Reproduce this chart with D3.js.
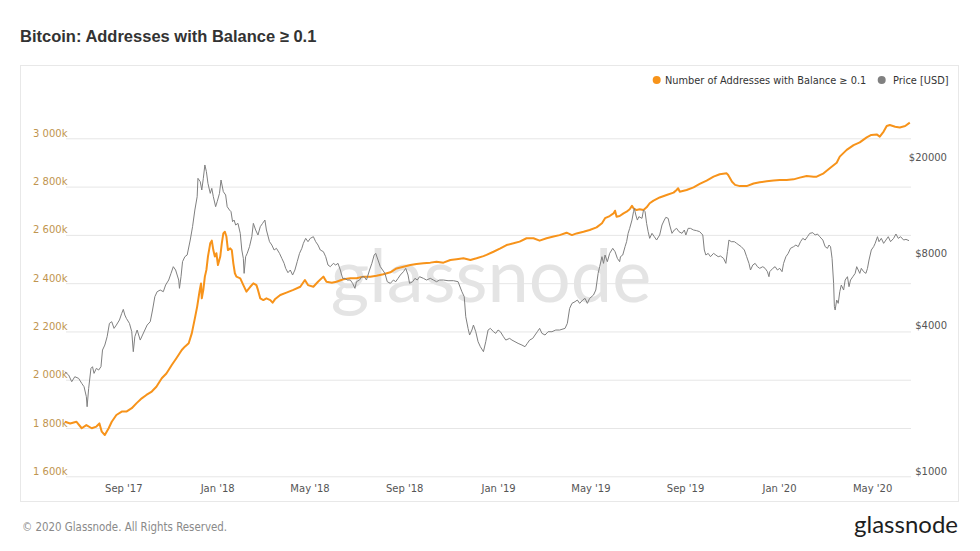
<!DOCTYPE html>
<html>
<head>
<meta charset="utf-8">
<script src="https://cdn.jsdelivr.net/npm/d3@7"></script>
<style>
  html, body { margin: 0; padding: 0; background: #ffffff; }
  svg text { font-family: "DejaVu Sans", sans-serif; }
</style>
</head>
<body>
<div id="chart"></div>
<script>
// addresses with balance >= 0.1, in thousands
const addressSeries = [
  ["2017-06-17", 1826], ["2017-06-24", 1819], ["2017-07-02", 1826], ["2017-07-09", 1799], ["2017-07-15", 1812],
  ["2017-07-22", 1799], ["2017-07-28", 1806], ["2017-08-01", 1819], ["2017-08-04", 1785], ["2017-08-08", 1771],
  ["2017-08-13", 1799], ["2017-08-17", 1826], ["2017-08-23", 1854], ["2017-08-30", 1868], ["2017-09-05", 1868],
  ["2017-09-12", 1882], ["2017-09-18", 1902], ["2017-09-25", 1923], ["2017-10-01", 1937], ["2017-10-08", 1951],
  ["2017-10-14", 1971], ["2017-10-21", 2006], ["2017-10-27", 2026], ["2017-11-03", 2061], ["2017-11-09", 2089],
  ["2017-11-16", 2123], ["2017-11-20", 2137], ["2017-11-25", 2151], ["2017-11-29", 2192], ["2017-12-03", 2254],
  ["2017-12-06", 2303], ["2017-12-09", 2365], ["2017-12-11", 2399], ["2017-12-12", 2337], ["2017-12-14", 2372],
  ["2017-12-16", 2427], ["2017-12-18", 2455], ["2017-12-20", 2510], ["2017-12-23", 2565], ["2017-12-25", 2576],
  ["2017-12-27", 2537], ["2017-12-29", 2510], ["2017-12-31", 2524], ["2018-01-02", 2475], ["2018-01-05", 2510],
  ["2018-01-07", 2565], ["2018-01-09", 2606], ["2018-01-11", 2613], ["2018-01-13", 2593], ["2018-01-15", 2537],
  ["2018-01-18", 2544], ["2018-01-20", 2537], ["2018-01-22", 2482], ["2018-01-24", 2441], ["2018-01-26", 2427],
  ["2018-01-31", 2420], ["2018-02-04", 2392], ["2018-02-08", 2365], ["2018-02-13", 2385], ["2018-02-17", 2399],
  ["2018-02-21", 2392], ["2018-02-23", 2372], ["2018-02-26", 2337], ["2018-03-02", 2330], ["2018-03-06", 2337],
  ["2018-03-11", 2330], ["2018-03-14", 2319], ["2018-03-17", 2333], ["2018-03-24", 2351], ["2018-04-01", 2361],
  ["2018-04-10", 2372], ["2018-04-19", 2385], ["2018-04-25", 2413], ["2018-04-29", 2392], ["2018-05-06", 2385],
  ["2018-05-12", 2406], ["2018-05-19", 2427], ["2018-05-23", 2406], ["2018-05-30", 2402], ["2018-06-05", 2406],
  ["2018-06-14", 2416], ["2018-06-23", 2420], ["2018-07-01", 2420], ["2018-07-10", 2427], ["2018-07-19", 2427],
  ["2018-07-27", 2431], ["2018-08-05", 2437], ["2018-08-14", 2445], ["2018-08-22", 2461], ["2018-08-31", 2468],
  ["2018-09-09", 2475], ["2018-09-17", 2479], ["2018-09-26", 2482], ["2018-10-05", 2485], ["2018-10-13", 2489],
  ["2018-10-22", 2485], ["2018-10-31", 2496], ["2018-11-08", 2499], ["2018-11-17", 2503], ["2018-11-26", 2496],
  ["2018-12-04", 2503], ["2018-12-13", 2512], ["2018-12-17", 2517], ["2018-12-26", 2530], ["2019-01-04", 2544],
  ["2019-01-12", 2558], ["2019-01-21", 2565], ["2019-01-29", 2572], ["2019-02-07", 2586], ["2019-02-16", 2586],
  ["2019-02-24", 2576], ["2019-03-05", 2586], ["2019-03-14", 2593], ["2019-03-22", 2599], ["2019-03-31", 2609],
  ["2019-04-07", 2599], ["2019-04-13", 2606], ["2019-04-22", 2613], ["2019-04-30", 2620], ["2019-05-09", 2631],
  ["2019-05-16", 2648], ["2019-05-20", 2669], ["2019-05-26", 2678], ["2019-05-31", 2689], ["2019-06-02", 2700],
  ["2019-06-04", 2675], ["2019-06-08", 2678], ["2019-06-13", 2689], ["2019-06-17", 2696], ["2019-06-21", 2706],
  ["2019-06-24", 2720], ["2019-06-26", 2710], ["2019-06-30", 2703], ["2019-07-04", 2706], ["2019-07-09", 2703],
  ["2019-07-13", 2714], ["2019-07-17", 2731], ["2019-07-22", 2742], ["2019-07-30", 2755], ["2019-08-08", 2765],
  ["2019-08-17", 2775], ["2019-08-21", 2786], ["2019-08-23", 2793], ["2019-08-25", 2779], ["2019-09-03", 2786],
  ["2019-09-12", 2797], ["2019-09-20", 2811], ["2019-09-29", 2825], ["2019-10-08", 2841], ["2019-10-16", 2851],
  ["2019-10-25", 2855], ["2019-10-27", 2848], ["2019-11-01", 2820], ["2019-11-05", 2807], ["2019-11-11", 2802],
  ["2019-11-20", 2802], ["2019-11-29", 2813], ["2019-12-07", 2818], ["2019-12-16", 2822], ["2019-12-25", 2825],
  ["2020-01-02", 2827], ["2020-01-11", 2827], ["2020-01-20", 2830], ["2020-01-28", 2837], ["2020-02-06", 2844],
  ["2020-02-15", 2841], ["2020-02-19", 2841], ["2020-02-28", 2855], ["2020-03-07", 2876], ["2020-03-16", 2899],
  ["2020-03-20", 2924], ["2020-03-29", 2952], ["2020-04-07", 2972], ["2020-04-15", 2983], ["2020-04-24", 3004],
  ["2020-04-30", 3014], ["2020-05-07", 3016], ["2020-05-11", 3007], ["2020-05-16", 3028], ["2020-05-20", 3051],
  ["2020-05-24", 3055], ["2020-05-31", 3048], ["2020-06-06", 3045], ["2020-06-13", 3051], ["2020-06-19", 3065]
];

// BTC price, USD
const priceSeries = [
  ["2017-06-17", 2712], ["2017-06-22", 2627], ["2017-06-26", 2466], ["2017-06-30", 2586], ["2017-07-05", 2545],
  ["2017-07-09", 2427], ["2017-07-12", 2351], ["2017-07-15", 2137], ["2017-07-16", 1942], ["2017-07-18", 2314],
  ["2017-07-21", 2800], ["2017-07-23", 2845], ["2017-07-25", 2670], ["2017-07-28", 2800], ["2017-07-31", 2756],
  ["2017-08-03", 2845], ["2017-08-05", 3335], ["2017-08-08", 3498], ["2017-08-11", 3788], ["2017-08-14", 4302],
  ["2017-08-17", 4370], ["2017-08-20", 4101], ["2017-08-23", 4234], ["2017-08-27", 4442], ["2017-08-30", 4733],
  ["2017-09-01", 4917], ["2017-09-03", 4659], ["2017-09-05", 4513], ["2017-09-09", 4302], ["2017-09-12", 3973],
  ["2017-09-14", 3283], ["2017-09-16", 3788], ["2017-09-19", 4037], ["2017-09-23", 3669], ["2017-09-26", 3849],
  ["2017-09-29", 4037], ["2017-10-02", 4234], ["2017-10-06", 4370], ["2017-10-09", 4886], ["2017-10-12", 5549],
  ["2017-10-15", 5820], ["2017-10-19", 5913], ["2017-10-23", 5820], ["2017-10-26", 6202], ["2017-10-30", 6505],
  ["2017-11-02", 6932], ["2017-11-05", 7388], ["2017-11-08", 7157], ["2017-11-12", 6505], ["2017-11-13", 6008],
  ["2017-11-15", 6715], ["2017-11-17", 7749], ["2017-11-20", 8127], ["2017-11-23", 8257], ["2017-11-27", 9528],
  ["2017-11-30", 10821], ["2017-12-03", 12686], ["2017-12-06", 14408], ["2017-12-07", 17162], ["2017-12-10", 16626],
  ["2017-12-12", 15354], ["2017-12-14", 17162], ["2017-12-16", 19492], ["2017-12-18", 18288], ["2017-12-20", 16364],
  ["2017-12-23", 14873], ["2017-12-25", 15599], ["2017-12-27", 14408], ["2017-12-30", 13096], ["2018-01-01", 13737],
  ["2018-01-04", 14873], ["2018-01-06", 16892], ["2018-01-09", 15111], ["2018-01-12", 14638], ["2018-01-14", 13096],
  ["2018-01-17", 12686], ["2018-01-19", 12486], ["2018-01-21", 11349], ["2018-01-23", 11527], ["2018-01-25", 10994],
  ["2018-01-28", 11170], ["2018-01-31", 10155], ["2018-02-02", 8662], ["2018-02-04", 7999], ["2018-02-05", 6932],
  ["2018-02-07", 8127], ["2018-02-09", 8389], ["2018-02-12", 8941], ["2018-02-15", 9835], ["2018-02-17", 11170],
  ["2018-02-20", 10483], ["2018-02-23", 9995], ["2018-02-26", 10821], ["2018-03-01", 11170], ["2018-03-04", 11527],
  ["2018-03-06", 10483], ["2018-03-10", 9378], ["2018-03-13", 9084], ["2018-03-16", 8662], ["2018-03-19", 8801],
  ["2018-03-23", 8389], ["2018-03-26", 7999], ["2018-03-29", 7627], ["2018-03-31", 7272], ["2018-04-03", 6976],
  ["2018-04-06", 7157], ["2018-04-09", 6823], ["2018-04-12", 7157], ["2018-04-15", 7749], ["2018-04-18", 8389],
  ["2018-04-21", 8801], ["2018-04-23", 9230], ["2018-04-26", 9681], ["2018-04-29", 9378], ["2018-05-02", 9681],
  ["2018-05-06", 9835], ["2018-05-09", 9378], ["2018-05-12", 9084], ["2018-05-15", 8662], ["2018-05-19", 8525],
  ["2018-05-22", 8127], ["2018-05-25", 7507], ["2018-05-28", 7388], ["2018-06-01", 7627], ["2018-06-04", 7507],
  ["2018-06-07", 7627], ["2018-06-10", 7157], ["2018-06-13", 6609], ["2018-06-16", 6609], ["2018-06-19", 6505],
  ["2018-06-23", 6505], ["2018-06-26", 6302], ["2018-06-29", 6008], ["2018-07-01", 6403], ["2018-07-05", 6505],
  ["2018-07-08", 6715], ["2018-07-11", 6715], ["2018-07-14", 6505], ["2018-07-18", 7157], ["2018-07-21", 7627],
  ["2018-07-24", 8257], ["2018-07-26", 8389], ["2018-07-29", 7873], ["2018-08-01", 7388], ["2018-08-04", 7157],
  ["2018-08-07", 6932], ["2018-08-10", 6403], ["2018-08-14", 6302], ["2018-08-18", 6505], ["2018-08-21", 6403],
  ["2018-08-24", 6609], ["2018-08-27", 6823], ["2018-08-31", 7043], ["2018-09-03", 7272], ["2018-09-06", 6823],
  ["2018-09-08", 6302], ["2018-09-12", 6403], ["2018-09-15", 6609], ["2018-09-18", 6505], ["2018-09-21", 6715],
  ["2018-09-26", 6609], ["2018-09-30", 6505], ["2018-10-05", 6609], ["2018-10-09", 6505], ["2018-10-13", 6403],
  ["2018-10-17", 6505], ["2018-10-22", 6505], ["2018-10-28", 6464], ["2018-11-04", 6464], ["2018-11-10", 6403],
  ["2018-11-15", 5820], ["2018-11-18", 5549], ["2018-11-20", 4585], ["2018-11-23", 4101], ["2018-11-25", 3849],
  ["2018-11-28", 4037], ["2018-11-30", 4234], ["2018-12-03", 3973], ["2018-12-06", 3611], ["2018-12-09", 3443],
  ["2018-12-13", 3283], ["2018-12-16", 3611], ["2018-12-19", 4037], ["2018-12-22", 4101], ["2018-12-26", 3973],
  ["2018-12-29", 3911], ["2019-01-01", 4037], ["2019-01-04", 3973], ["2019-01-08", 3788], ["2019-01-11", 3669],
  ["2019-01-16", 3728], ["2019-01-19", 3669], ["2019-01-23", 3611], ["2019-01-27", 3554], ["2019-02-01", 3498],
  ["2019-02-05", 3443], ["2019-02-08", 3554], ["2019-02-11", 3669], ["2019-02-15", 3728], ["2019-02-18", 3849],
  ["2019-02-21", 3973], ["2019-02-24", 4101], ["2019-02-27", 3911], ["2019-03-03", 3849], ["2019-03-07", 3973],
  ["2019-03-12", 3973], ["2019-03-17", 4037], ["2019-03-22", 4037], ["2019-03-29", 4101], ["2019-04-01", 4302],
  ["2019-04-04", 4964], ["2019-04-07", 5207], ["2019-04-11", 5290], ["2019-04-14", 5375], ["2019-04-17", 5207],
  ["2019-04-21", 5375], ["2019-04-24", 5461], ["2019-04-27", 5207], ["2019-04-30", 5461], ["2019-05-05", 5638],
  ["2019-05-08", 5913], ["2019-05-11", 6932], ["2019-05-13", 7388], ["2019-05-16", 8127], ["2019-05-18", 7627],
  ["2019-05-20", 8257], ["2019-05-23", 7749], ["2019-05-26", 8389], ["2019-05-30", 8801], ["2019-06-02", 8525],
  ["2019-06-05", 7999], ["2019-06-08", 7749], ["2019-06-09", 8127], ["2019-06-12", 8257], ["2019-06-15", 8941],
  ["2019-06-17", 9378], ["2019-06-19", 10155], ["2019-06-21", 10650], ["2019-06-24", 11527], ["2019-06-26", 12486],
  ["2019-06-27", 12889], ["2019-06-29", 12096], ["2019-07-01", 11527], ["2019-07-03", 11905], ["2019-07-07", 11717],
  ["2019-07-09", 12686], ["2019-07-11", 12486], ["2019-07-13", 11170], ["2019-07-15", 10318], ["2019-07-17", 9681],
  ["2019-07-20", 10155], ["2019-07-23", 9835], ["2019-07-26", 9528], ["2019-07-30", 9995], ["2019-08-02", 10994],
  ["2019-08-05", 11527], ["2019-08-07", 11830], ["2019-08-10", 11717], ["2019-08-12", 10994], ["2019-08-15", 10155],
  ["2019-08-18", 10483], ["2019-08-21", 10650], ["2019-08-24", 10318], ["2019-08-28", 10155], ["2019-08-31", 10483],
  ["2019-09-02", 9995], ["2019-09-05", 10650], ["2019-09-08", 10650], ["2019-09-12", 10483], ["2019-09-16", 10417],
  ["2019-09-20", 10318], ["2019-09-24", 9995], ["2019-09-26", 8662], ["2019-09-28", 8257], ["2019-10-01", 8389],
  ["2019-10-04", 8127], ["2019-10-08", 8389], ["2019-10-11", 8257], ["2019-10-14", 8127], ["2019-10-17", 8179],
  ["2019-10-21", 7999], ["2019-10-24", 7627], ["2019-10-26", 8525], ["2019-10-28", 9528], ["2019-10-31", 9378],
  ["2019-11-04", 9378], ["2019-11-07", 9230], ["2019-11-10", 9084], ["2019-11-13", 8941], ["2019-11-17", 8662],
  ["2019-11-20", 8127], ["2019-11-23", 7627], ["2019-11-25", 7157], ["2019-11-28", 7507], ["2019-12-01", 7627],
  ["2019-12-04", 7388], ["2019-12-07", 7272], ["2019-12-11", 7388], ["2019-12-14", 7272], ["2019-12-17", 7043],
  ["2019-12-19", 6715], ["2019-12-20", 7043], ["2019-12-24", 7272], ["2019-12-27", 7388], ["2019-12-30", 7157],
  ["2020-01-02", 7272], ["2020-01-05", 7043], ["2020-01-07", 7627], ["2020-01-10", 8127], ["2020-01-13", 8389],
  ["2020-01-16", 8801], ["2020-01-20", 8941], ["2020-01-23", 9084], ["2020-01-26", 8941], ["2020-01-29", 9378],
  ["2020-02-01", 9681], ["2020-02-04", 9528], ["2020-02-07", 9835], ["2020-02-10", 10155], ["2020-02-14", 10220],
  ["2020-02-17", 9995], ["2020-02-20", 10090], ["2020-02-23", 9835], ["2020-02-27", 9528], ["2020-03-01", 8941],
  ["2020-03-04", 8801], ["2020-03-06", 9084], ["2020-03-08", 8941], ["2020-03-10", 7999], ["2020-03-12", 6302],
  ["2020-03-13", 5044], ["2020-03-14", 4886], ["2020-03-16", 5375], ["2020-03-18", 5207], ["2020-03-20", 5820],
  ["2020-03-22", 6202], ["2020-03-25", 5913], ["2020-03-27", 6505], ["2020-03-30", 6715], ["2020-04-01", 6104],
  ["2020-04-03", 6505], ["2020-04-06", 6715], ["2020-04-09", 6932], ["2020-04-11", 7388], ["2020-04-13", 7157],
  ["2020-04-15", 6932], ["2020-04-17", 7272], ["2020-04-20", 7043], ["2020-04-23", 6932], ["2020-04-25", 7272],
  ["2020-04-27", 7873], ["2020-04-30", 8662], ["2020-05-03", 8941], ["2020-05-05", 9230], ["2020-05-08", 9835],
  ["2020-05-10", 9378], ["2020-05-13", 9681], ["2020-05-16", 9230], ["2020-05-19", 9528], ["2020-05-22", 9835],
  ["2020-05-25", 9378], ["2020-05-29", 9681], ["2020-06-01", 10090], ["2020-06-04", 9681], ["2020-06-07", 9835],
  ["2020-06-11", 9528], ["2020-06-14", 9589], ["2020-06-18", 9470]
];

const addressTicks = [1600, 1800, 2000, 2200, 2400, 2600, 2800, 3000];
const priceTicks = [1000, 4000, 8000, 20000];
const seriesNames = ["Number of Addresses with Balance \u2265 0.1", "Price [USD]"];
const seriesColors = ["#f7931a", "#808080"];

const width = 980;
const height = 551;
const plot = { left: 66, right: 911, top: 100, bottom: 476.3 };

const parseDay = d3.utcParse("%Y-%m-%d");
const addresses = addressSeries.map(d => ({ date: parseDay(d[0]), value: d[1] }));
const prices = priceSeries.map(d => ({ date: parseDay(d[0]), value: d[1] }));

const svg = d3.select('#chart').append('svg')
    .attr('width', width)
    .attr('height', height);

svg.append('rect').attr('width', width).attr('height', height).attr('fill', '#ffffff');

// title
svg.append('text')
    .attr('x', 20)
    .attr('y', 42)
    .attr('fill', '#333333')
    .style('font-family', '"Liberation Sans", Arial, sans-serif')
    .style('font-size', '16.5px')
    .style('font-weight', 'bold')
    .text('Bitcoin: Addresses with Balance \u2265 0.1');

// chart frame
svg.append('rect')
    .attr('x', 20.5)
    .attr('y', 65.5)
    .attr('width', 938)
    .attr('height', 436)
    .attr('fill', 'none')
    .attr('stroke', '#e8e8e8');

const xScale = d3.scaleUtc()
    .domain([addresses[0].date, addresses[addresses.length - 1].date])
    .range([64.8, 909.8]);
const yLeft = d3.scaleLinear().domain([1600, 3000]).range([plot.bottom, 138.3]);
const yRight = d3.scaleLog().base(2).domain([1000, 20000]).range([plot.bottom, 162.3]);

const spaced = d3.formatLocale({ decimal: '.', thousands: ' ', grouping: [3], currency: ['$', ''] });
const fmtK = spaced.format(',');

// gridlines + left labels
const leftAxis = d3.axisLeft(yLeft)
    .tickValues(addressTicks)
    .tickSize(-(plot.right - plot.left))
    .tickFormat(d => fmtK(d) + 'k');
const gLeft = svg.append('g')
    .attr('transform', `translate(${plot.left}, 0)`)
    .call(leftAxis);
gLeft.select('.domain').remove();
gLeft.selectAll('line').attr('stroke', '#e6e6e6');
gLeft.selectAll('text')
    .attr('x', 33 - plot.left)
    .attr('dy', '-0.2em')
    .attr('text-anchor', 'start')
    .attr('fill', '#bf9550')
    .style('font-size', '10px');

// right labels (no grid)
const rightAxis = d3.axisRight(yRight)
    .tickValues(priceTicks)
    .tickSize(0)
    .tickFormat(d => '$' + d);
const gRight = svg.append('g')
    .attr('transform', `translate(947, 0)`)
    .call(rightAxis);
gRight.select('.domain').remove();
gRight.selectAll('text')
    .attr('x', 0)
    .attr('dy', '-0.2em')
    .attr('text-anchor', 'end')
    .attr('fill', '#555555')
    .style('font-size', '10px');

// x axis
const xAxis = d3.axisBottom(xScale)
    .ticks(d3.utcMonth.every(4))
    .tickSize(0)
    .tickFormat(d3.utcFormat("%b '%y"));
const gX = svg.append('g')
    .attr('transform', `translate(0, ${plot.bottom})`)
    .call(xAxis);
gX.select('.domain').remove();
gX.selectAll('text')
    .attr('y', 15.5)
    .attr('dy', 0)
    .attr('fill', '#555555')
    .style('font-size', '10px');

// watermark
svg.append('text')
    .attr('x', 491)
    .attr('y', 302)
    .attr('text-anchor', 'middle')
    .attr('fill', '#e4e4e4')
    .style('font-family', 'Lato, sans-serif')
    .style('font-size', '74px')
    .text('glassnode');

const addrLine = d3.line().x(d => xScale(d.date)).y(d => yLeft(d.value));
const priceLine = d3.line().x(d => xScale(d.date)).y(d => yRight(d.value));

svg.append('path')
    .datum(addresses)
    .attr('fill', 'none')
    .attr('stroke', seriesColors[0])
    .attr('stroke-width', 2)
    .attr('stroke-linejoin', 'round')
    .attr('d', addrLine);

svg.append('path')
    .datum(prices)
    .attr('fill', 'none')
    .attr('stroke', seriesColors[1])
    .attr('stroke-width', 1)
    .attr('stroke-linejoin', 'round')
    .attr('d', priceLine);

// legend
const legendItems = [
    { name: seriesNames[0], color: seriesColors[0], cx: 656.7, tx: 665 },
    { name: seriesNames[1], color: seriesColors[1], cx: 881.7, tx: 893 }
];
const legend = svg.selectAll('.legend-item')
    .data(legendItems)
    .enter()
    .append('g')
    .attr('class', 'legend-item');
legend.append('circle')
    .attr('cx', d => d.cx)
    .attr('cy', 80)
    .attr('r', 4)
    .attr('fill', d => d.color);
legend.append('text')
    .attr('x', d => d.tx)
    .attr('y', 83.5)
    .attr('fill', '#333333')
    .style('font-size', '9.8px')
    .text(d => d.name);

// footer
svg.append('text')
    .attr('x', 22)
    .attr('y', 530.5)
    .attr('fill', '#8a8a8a')
    .style('font-family', '"DejaVu Sans Condensed", "DejaVu Sans", sans-serif')
    .style('font-stretch', 'condensed')
    .style('font-size', '11.4px')
    .text('\u00a9 2020 Glassnode. All Rights Reserved.');

svg.append('text')
    .attr('x', 958)
    .attr('y', 533)
    .attr('text-anchor', 'end')
    .attr('fill', '#1e1e1e')
    .style('font-family', 'Lato, sans-serif')
    .style('font-size', '24px')
    .text('glassnode');
</script>
</body>
</html>
